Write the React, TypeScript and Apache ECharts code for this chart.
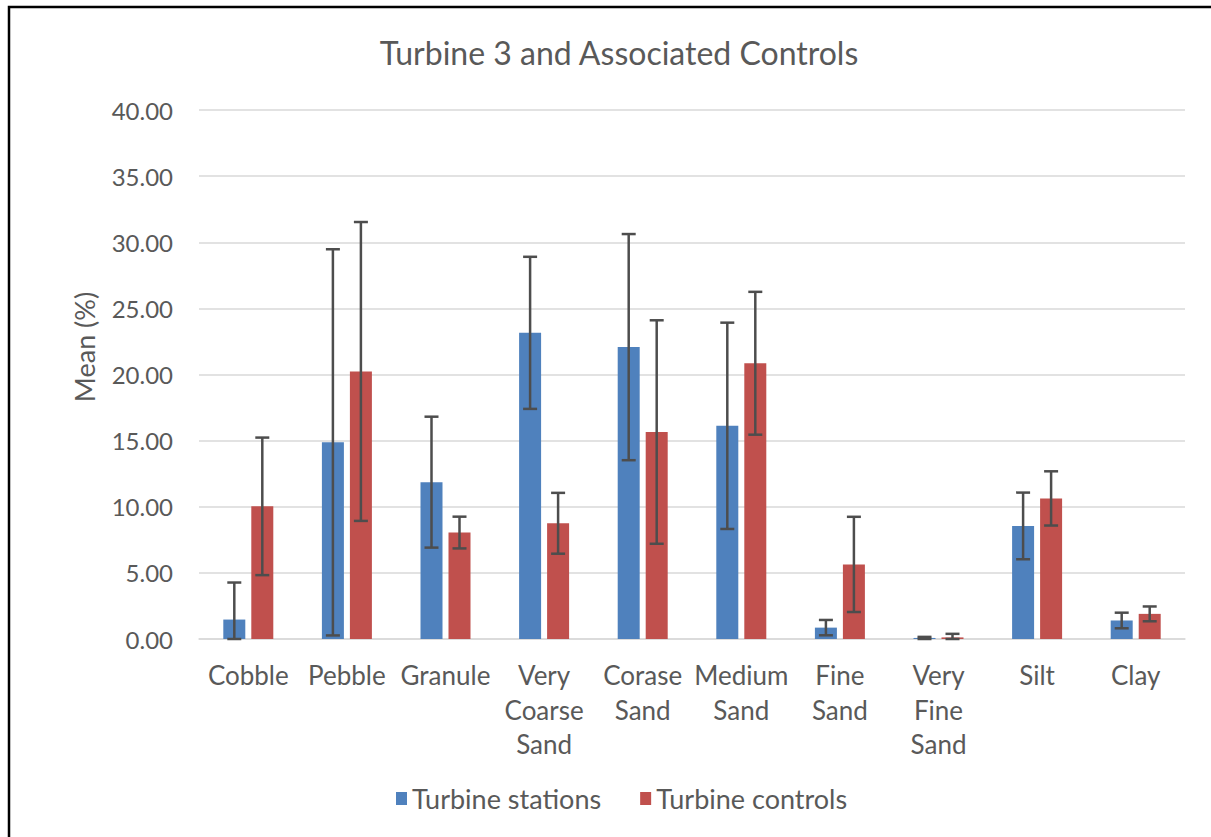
import React, { useEffect, useRef } from "react";
import * as echarts from "echarts";

const categories = [
  "Cobble",
  "Pebble",
  "Granule",
  "Very\nCoarse\nSand",
  "Corase\nSand",
  "Medium\nSand",
  "Fine\nSand",
  "Very\nFine\nSand",
  "Silt",
  "Clay",
];
const seriesNames = ["Turbine stations", "Turbine controls"];
const stationsMean = [1.47, 14.87, 11.86, 23.15, 22.07, 16.12, 0.86, 0.08, 8.55, 1.4];
const stationsErr = [2.8, 14.6, 4.95, 5.75, 8.55, 7.8, 0.58, 0.08, 2.52, 0.59];
const controlsMean = [10.03, 20.23, 8.05, 8.75, 15.65, 20.85, 5.64, 0.12, 10.63, 1.9];
const controlsErr = [5.2, 11.3, 1.2, 2.3, 8.45, 5.4, 3.6, 0.27, 2.05, 0.56];
const yTicks = { min: 0, max: 40, interval: 5 };

const FONT = "Lato";
const TEXT = "#595959";
const BLUE = "#4F81BD";
const RED = "#C0504D";
const BAR_W = 22;
const BAR_GAP = 6;

function errData(mean: number[], err: number[]) {
  return mean.map((m, i) => [i, Math.max(0, m - err[i]), m + err[i]]);
}

function errSeries(name: string, mean: number[], err: number[], side: number) {
  return {
    type: "custom",
    name: name + " error",
    z: 5,
    silent: true,
    encode: { x: 0, y: [1, 2] },
    data: errData(mean, err),
    renderItem: (params: any, api: any) => {
      const i = api.value(0);
      const lo = api.coord([i, api.value(1)]);
      const hi = api.coord([i, api.value(2)]);
      const x = lo[0] + side * (BAR_W + BAR_GAP) / 2;
      const cap = 7;
      const style = { stroke: "#4D4D4D", lineWidth: 2.5, fill: "none" };
      return {
        type: "group",
        children: [
          { type: "line", shape: { x1: x, y1: hi[1], x2: x, y2: lo[1] }, style },
          { type: "line", shape: { x1: x - cap, y1: hi[1], x2: x + cap, y2: hi[1] }, style },
          { type: "line", shape: { x1: x - cap, y1: lo[1], x2: x + cap, y2: lo[1] }, style },
        ],
      };
    },
  };
}

export default function App() {
  const ref = useRef<HTMLDivElement>(null);
  useEffect(() => {
    if (!ref.current) return;
    const chart = echarts.init(ref.current, null, { renderer: "svg" });
    chart.setOption({
      animation: false,
      backgroundColor: "#ffffff",
      textStyle: { fontFamily: FONT },
      title: {
        text: "Turbine 3 and Associated Controls",
        left: 614,
        textAlign: "center",
        top: 31,
        textStyle: { fontFamily: FONT, fontSize: 32, fontWeight: "normal", color: TEXT },
      },
      legend: {
        data: seriesNames,
        left: 391,
        top: 780,
        icon: "rect",
        itemWidth: 11,
        itemHeight: 13,
        itemGap: 39,
        itemStyle: { borderWidth: 0 },
        textStyle: { fontFamily: FONT, fontSize: 27, color: TEXT },
      },
      grid: { left: 199, right: 26, top: 110, bottom: 198, containLabel: false },
      xAxis: {
        type: "category",
        data: categories,
        axisTick: { show: false },
        axisLine: { lineStyle: { color: "#D9D9D9", width: 1.5 } },
        axisLabel: {
          interval: 0,
          fontFamily: FONT,
          fontSize: 26,
          lineHeight: 34.5,
          color: TEXT,
          margin: 19,
        },
      },
      yAxis: {
        type: "value",
        min: yTicks.min,
        max: yTicks.max,
        interval: yTicks.interval,
        axisLine: { show: false },
        axisTick: { show: false },
        axisLabel: {
          fontFamily: FONT,
          fontSize: 24,
          color: TEXT,
          margin: 26,
          formatter: (v: number) => v.toFixed(2),
        },
        splitLine: { lineStyle: { color: "#D9D9D9", width: 1.5 } },
      },
      graphic: [
        {
          type: "rect",
          shape: { x: 9, y: 7, width: 1400, height: 1000 },
          style: { fill: "none", stroke: "#000", lineWidth: 2.5 },
          silent: true,
        },
        {
          type: "text",
          x: 84,
          y: 347,
          rotation: Math.PI / 2,
          style: {
            text: "Mean (%)",
            fontFamily: FONT,
            fontSize: 27,
            fill: TEXT,
            textAlign: "center",
            textVerticalAlign: "middle",
          },
        },
      ],
      series: [
        {
          name: seriesNames[0],
          type: "bar",
          data: stationsMean,
          barWidth: BAR_W,
          barGap: (BAR_GAP / BAR_W) * 100 + "%",
          itemStyle: { color: BLUE },
        },
        {
          name: seriesNames[1],
          type: "bar",
          data: controlsMean,
          barWidth: BAR_W,
          barGap: (BAR_GAP / BAR_W) * 100 + "%",
          itemStyle: { color: RED },
        },
        errSeries(seriesNames[0], stationsMean, stationsErr, -1),
        errSeries(seriesNames[1], controlsMean, controlsErr, 1),
      ],
    });
    return () => chart.dispose();
  }, []);
  return (
    <div
      ref={ref}
      style={{ position: "fixed", left: 0, top: 0, width: 1211, height: 837 }}
    />
  );
}
